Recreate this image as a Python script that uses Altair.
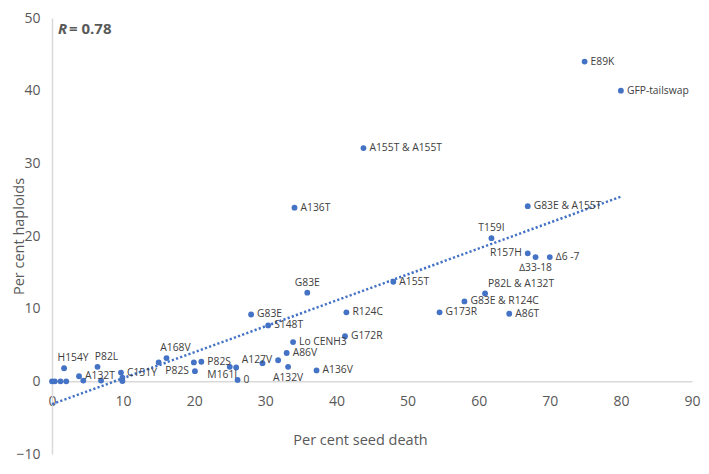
import altair as alt
import pandas as pd

# ---- data ----
seed_death = [0.0, 0.4, 1.2, 2.0, 1.7, 3.8, 4.4, 6.4, 6.9, 9.7, 9.9, 9.9,
              15.0, 16.1, 20.1, 19.95, 21.0, 25.0, 25.9, 26.1, 31.8, 29.6,
              33.0, 33.2, 37.2, 33.9, 28.0, 30.4, 41.4, 41.2, 35.9, 48.0,
              54.5, 58.0, 60.9, 64.3, 66.9, 68.0, 70.0, 66.9, 61.8, 34.1,
              43.8, 74.9, 80.0]
haploids = [0.0, 0.0, 0.0, 0.0, 1.8, 0.7, 0.1, 2.0, 0.1, 1.2, 0.5, 0.05,
            2.6, 3.2, 1.4, 2.6, 2.7, 2.0, 1.9, 0.2, 2.9, 2.5,
            3.9, 2.0, 1.5, 5.4, 9.2, 7.7, 9.5, 6.2, 12.2, 13.7,
            9.5, 11.0, 12.1, 9.3, 17.6, 17.1, 17.1, 24.1, 19.7, 23.9,
            32.1, 44.0, 40.0]
labels = ["", "", "", "", "H154Y", "A132T", "", "P82L", "", "C151Y", "", "",
          "", "A168V", "P82S", "", "P82S", "", "M161I", "0", "A127V", "",
          "A86V", "A132V", "A136V", "Lo CENH3", "G83E", "S148T", "R124C", "G172R", "G83E", "A155T",
          "G173R", "G83E & R124C", "P82L & A132T", "A86T", "R157H", "∆33-18", "∆6 -7", "G83E & A155T", "T159I", "A136T",
          "A155T & A155T", "E89K", "GFP-tailswap"]
label_side = ["n", "n", "n", "n", "t2", "r", "n", "t2", "n", "r", "n", "n",
              "n", "t2", "l", "n", "r", "n", "bl", "r", "l", "n",
              "r", "b", "r", "r", "r", "r", "r", "r", "t", "r",
              "r", "r", "tr", "r", "l", "b", "r", "r", "t", "r",
              "r", "r", "r"]
r_text = ["R", "= 0.78"]

df = pd.DataFrame({"x": seed_death, "y": haploids, "label": labels, "side": label_side})

W, H = 640, 436
FONT = "Open Sans"
BLUE = "#4472c4"
AXIS_GRAY = "#d9d9d9"
TEXT_GRAY = "#595959"

xs = alt.Scale(domain=[0, 90], nice=False, zero=False)
ys = alt.Scale(domain=[-10, 50], nice=False, zero=False)

x_enc = alt.X("x:Q", scale=xs, title="Per cent seed death",
              axis=alt.Axis(values=list(range(0, 91, 10)), offset=-H * 10 / 60,
                            ticks=False, grid=False, domainColor=AXIS_GRAY, domainWidth=1.5,
                            labelPadding=13, labelColor=TEXT_GRAY, labelFont=FONT,
                            labelFontSize=14, labelFlush=False, labelOverlap=False,
                            titleFont=FONT, titleFontSize=14.5, titleFontWeight="normal",
                            titleColor=TEXT_GRAY, titleX=308, titleY=59, titleBaseline="middle"))
y_enc = alt.Y("y:Q", scale=ys, title="Per cent haploids",
              axis=alt.Axis(values=list(range(-10, 51, 10)), ticks=False, grid=False,
                            domainColor=AXIS_GRAY, domainWidth=1.5,
                            labelPadding=12, labelColor=TEXT_GRAY, labelFont=FONT,
                            labelFontSize=14, labelFlush=False, labelOverlap=False,
                            titleFont=FONT, titleFontSize=14.5, titleFontWeight="normal",
                            titleColor=TEXT_GRAY, titleX=-33, titleBaseline="middle"))

base = alt.Chart(df)

trend = base.transform_regression("x", "y", extent=[0, 80]).mark_line(
    color=BLUE, strokeWidth=2.5, strokeDash=[2.2, 2.2]
).encode(x=x_enc, y=y_enc)

points = base.mark_circle(size=34, color=BLUE, opacity=1).encode(x=x_enc, y=y_enc)


def side_layer(side, align, dx, dy):
    return base.transform_filter(alt.datum.side == side).mark_text(
        align=align, baseline="middle", dx=dx, dy=dy, font=FONT, fontSize=10.3, color="#404040"
    ).encode(x=x_enc, y=y_enc, text="label:N")


text_layers = [
    side_layer("r", "left", 6, 0),
    side_layer("l", "right", -6, 0),
    side_layer("t", "center", 0, -10),
    side_layer("t2", "center", 9, -10),
    side_layer("tr", "left", 3, -9),
    side_layer("b", "center", 0, 11),
    side_layer("bl", "right", 1, 7),
]

r_df = pd.DataFrame({"t": r_text, "k": [0, 1]})
r_label = alt.Chart(r_df).transform_filter(alt.datum.k == 0).mark_text(
    align="left", baseline="middle", font=FONT, fontSize=15, fontWeight="bold",
    fontStyle="italic", color=TEXT_GRAY
).encode(x=alt.value(6), y=alt.value(11), text="t:N")
r_value = alt.Chart(r_df).transform_filter(alt.datum.k == 1).mark_text(
    align="left", baseline="middle", font=FONT, fontSize=15, fontWeight="bold",
    color=TEXT_GRAY
).encode(x=alt.value(17), y=alt.value(11), text="t:N")

chart = alt.layer(trend, points, *text_layers, r_label, r_value).properties(
    width=W, height=H,
    padding={"left": 44, "top": 10, "right": 9, "bottom": 12},
    autosize=alt.AutoSizeParams(type="none"),
).configure_view(stroke=None)

chart.save("out.html", embed_options={"renderer": "svg", "actions": False})
